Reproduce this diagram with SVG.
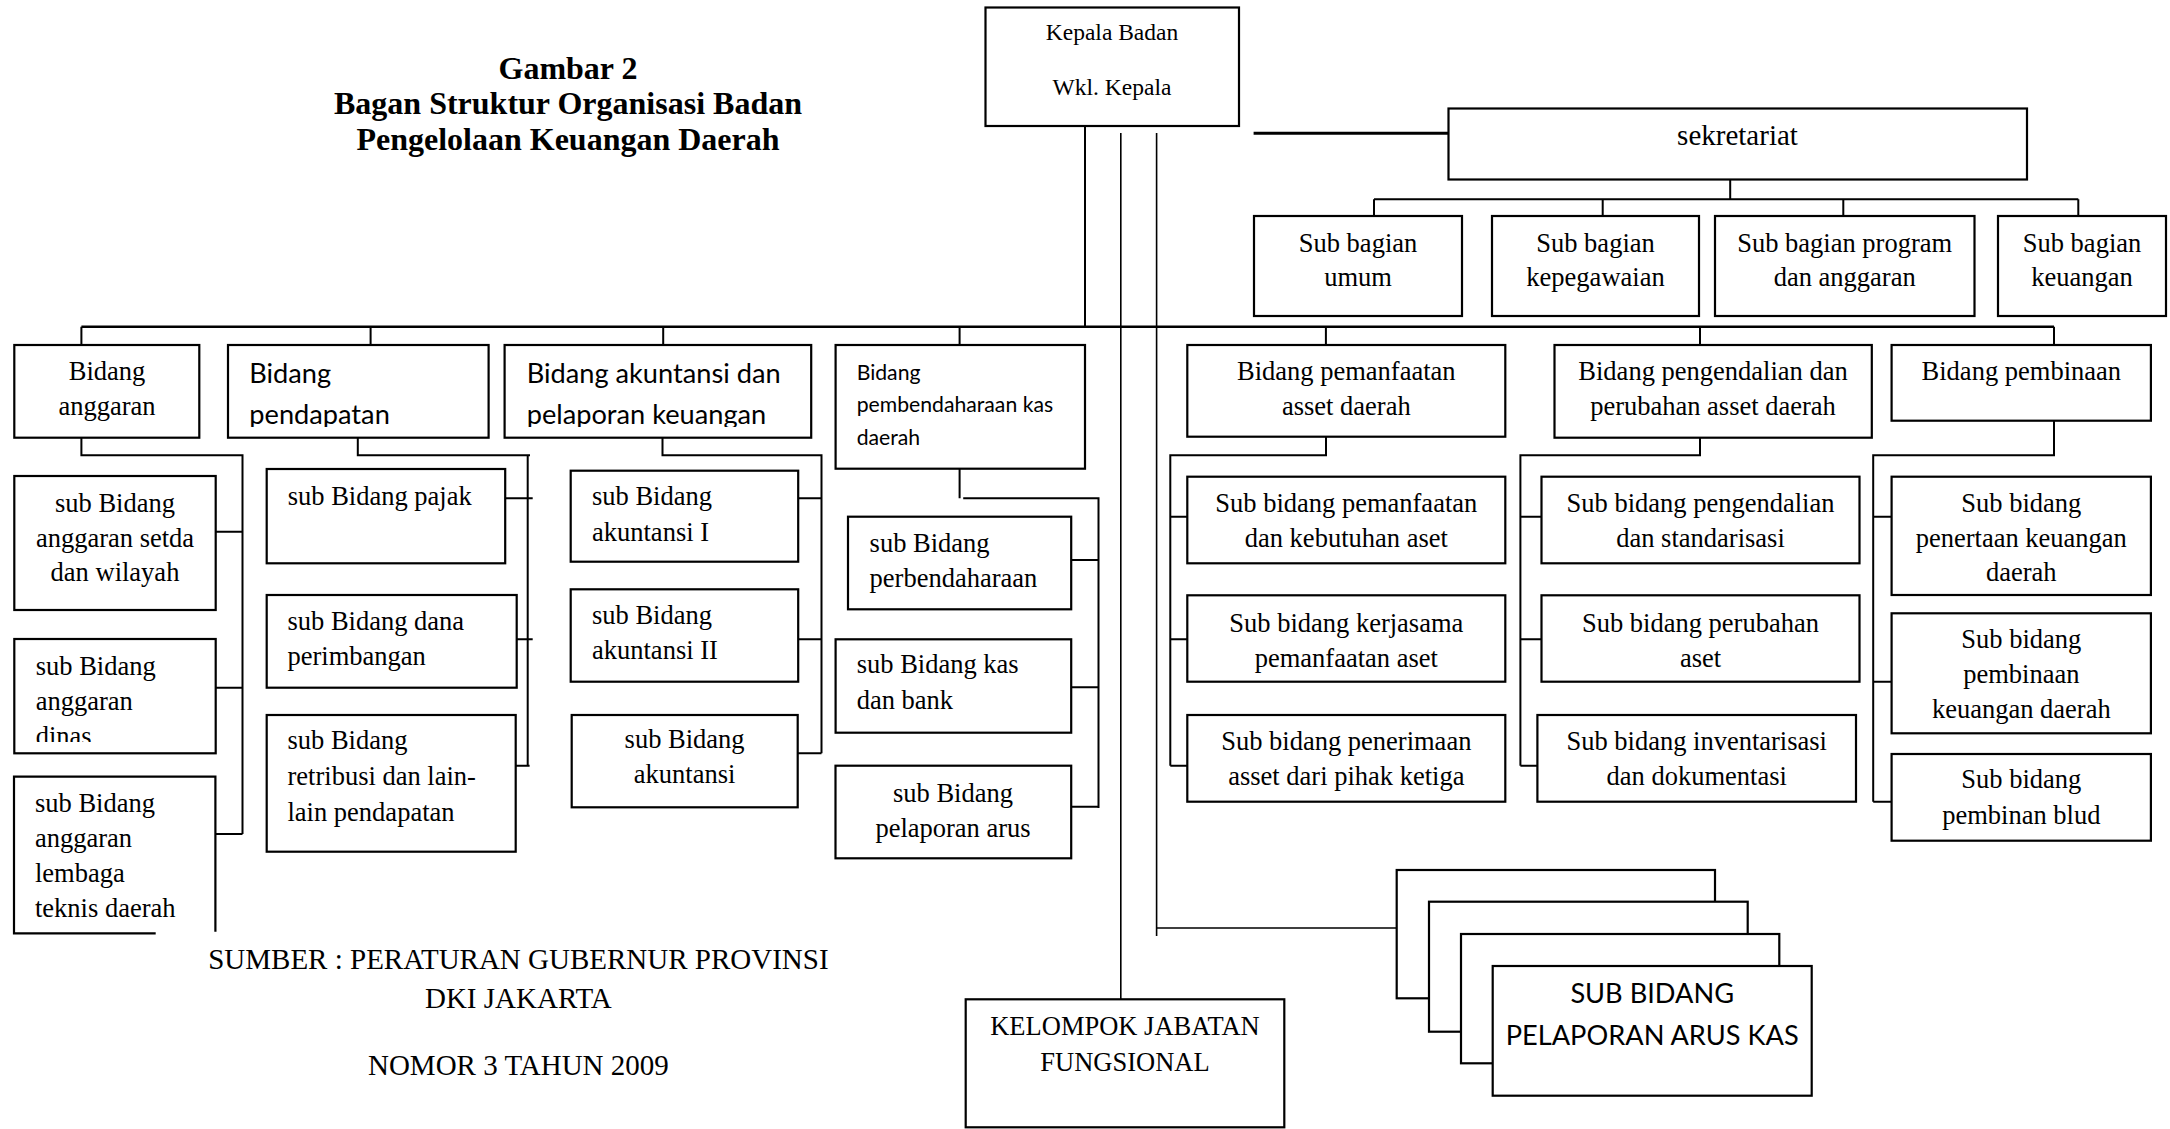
<svg xmlns="http://www.w3.org/2000/svg" width="2170" height="1129" viewBox="0 0 2170 1129">
<style>
.bx{fill:#fff;stroke:#000;stroke-width:2.2}
.ln{fill:none;stroke:#000;stroke-width:2}
.t{font-family:"Liberation Serif","Times New Roman",serif;font-size:26.5px;fill:#000}
.s{font-family:Lato,"Liberation Sans",sans-serif;font-size:27.2px;fill:#000}
.c{text-anchor:middle}
.h{font-family:"Liberation Serif","Times New Roman",serif;font-size:32px;font-weight:bold;text-anchor:middle}
</style>
<defs>
<clipPath id="clipTop"><rect x="0" y="340" width="2170" height="87"/></clipPath>
<clipPath id="clipDinas"><rect x="0" y="630" width="400" height="112"/></clipPath>
</defs>
<rect width="2170" height="1129" fill="#fff"/>

<g id="title">
<text class="h" x="568" y="79">Gambar 2</text>
<text class="h" x="568" y="114">Bagan Struktur Organisasi Badan</text>
<text class="h" x="568" y="150">Pengelolaan Keuangan Daerah</text>
</g>

<g id="connectors">
<path class="ln" style="stroke-width:2.5" d="M81.4 326.7H2054"/>
<path class="ln" d="M1085 126V326.7"/>
<path class="ln" style="stroke-width:1.6" d="M1120.8 133V999.3M1156.6 133V936M1156.6 928H1396.7"/>
<path class="ln" style="stroke-width:3" d="M1253.6 133.3H1448"/>
<path class="ln" d="M1730.2 179.3V199.3M1374 199.3H2078.3M1374 199.3V216M1602.7 199.3V216M1843.3 199.3V216M2078.3 199.3V216"/>
<path class="ln" d="M81.4 326.7V345M370.6 326.7V345M663.2 326.7V345M959.6 326.7V345M1325.9 326.7V345M1700 326.7V345M2054 326.7V345"/>
<path class="ln" d="M81.4 437.7V455.3H242.5V834M215.7 531.7H242.5M215.7 687.7H242.5M215.4 834H242.5"/>
<path class="ln" d="M357.8 437.7V455.3H530M527.7 455.3V765.7M505.2 498.3H532.7M516.7 639.3H532.7M515.6 765.7H529.6"/>
<path class="ln" d="M662.5 437.7V455.3H821.5V753.3M798.2 498.3H821.5M798.2 639.3H821.5M797.6 753.3H821.5"/>
<path class="ln" d="M959.6 468.7V498.3M963.2 498.3H1098.5V808M1071.2 560H1098.5M1071.2 687.3H1098.5M1071.2 806.7H1098.5"/>
<path class="ln" d="M1326 436.7V455.3H1170.3V765.7M1170.3 516.7H1187.3M1170.3 639.3H1187.3M1170.3 765.7H1187.3"/>
<path class="ln" d="M1700 437.7V455.3H1520.4V765.7M1520.4 516.7H1541.5M1520.4 639.3H1541.5M1520.4 765.7H1537.4"/>
<path class="ln" d="M2054 420.7V455.3H1873.2V801.7M1873.2 516.7H1891.6M1873.2 681.7H1891.6M1873.2 801.7H1891.6"/>
</g>

<g id="kepala">
<rect class="bx" x="985.5" y="7.5" width="253.5" height="118.5"/>
<text class="t c" x="1112" y="39.5" style="font-size:23.5px">Kepala Badan</text>
<text class="t c" x="1112" y="95" style="font-size:23.5px">Wkl. Kepala</text>
</g>

<g id="sekretariat">
<rect class="bx" x="1448.5" y="108.5" width="578.5" height="71"/>
<text class="t c" x="1737.5" y="145" style="font-size:29px">sekretariat</text>
</g>

<g id="sub-umum">
<rect class="bx" x="1254" y="216" width="208" height="100"/>
<text class="t c" x="1358" y="251.7">Sub bagian</text>
<text class="t c" x="1358" y="285.5">umum</text>
</g>
<g id="sub-kepegawaian">
<rect class="bx" x="1492" y="216" width="207" height="100"/>
<text class="t c" x="1595.5" y="251.7">Sub bagian</text>
<text class="t c" x="1595.5" y="285.5">kepegawaian</text>
</g>
<g id="sub-program">
<rect class="bx" x="1715" y="216" width="259.5" height="100"/>
<text class="t c" x="1844.7" y="251.7">Sub bagian program</text>
<text class="t c" x="1844.7" y="285.5">dan anggaran</text>
</g>
<g id="sub-keuangan">
<rect class="bx" x="1998" y="216" width="168" height="100"/>
<text class="t c" x="2082" y="251.7">Sub bagian</text>
<text class="t c" x="2082" y="285.5">keuangan</text>
</g>

<g id="bidang-anggaran">
<rect class="bx" x="14.3" y="345" width="185" height="92.7"/>
<text class="t c" x="107" y="380">Bidang</text>
<text class="t c" x="107" y="415">anggaran</text>
</g>
<g id="bidang-pendapatan">
<rect class="bx" x="228" y="345" width="260.6" height="92.7"/>
<g clip-path="url(#clipTop)">
<text class="s" x="249.3" y="383.3">Bidang</text>
<text class="s" x="249.3" y="424.3">pendapatan</text>
</g>
</g>
<g id="bidang-akuntansi">
<rect class="bx" x="504.6" y="345" width="306.6" height="92.7"/>
<g clip-path="url(#clipTop)">
<text class="s" x="526.7" y="382.7">Bidang akuntansi dan</text>
<text class="s" x="526.7" y="424.3">pelaporan keuangan</text>
</g>
</g>
<g id="bidang-pembendaharaan">
<rect class="bx" x="835.6" y="345" width="249.4" height="123.7"/>
<text class="s" x="856.7" y="380" style="font-size:21.2px">Bidang</text>
<text class="s" x="856.7" y="411.7" style="font-size:21.2px">pembendaharaan kas</text>
<text class="s" x="856.7" y="445" style="font-size:21.2px">daerah</text>
</g>
<g id="bidang-pemanfaatan">
<rect class="bx" x="1187.3" y="345" width="318" height="91.7"/>
<text class="t c" x="1346.3" y="380">Bidang pemanfaatan</text>
<text class="t c" x="1346.3" y="415">asset daerah</text>
</g>
<g id="bidang-pengendalian">
<rect class="bx" x="1554.5" y="345" width="317.3" height="92.7"/>
<text class="t c" x="1713" y="380">Bidang pengendalian dan</text>
<text class="t c" x="1713" y="415">perubahan asset daerah</text>
</g>
<g id="bidang-pembinaan">
<rect class="bx" x="1891.6" y="345" width="259.3" height="75.7"/>
<text class="t c" x="2021.3" y="380">Bidang pembinaan</text>
</g>

<g id="sub-anggaran-setda">
<rect class="bx" x="14.3" y="476" width="201.4" height="134"/>
<text class="t c" x="115" y="511.7">sub Bidang</text>
<text class="t c" x="115" y="546.7">anggaran setda</text>
<text class="t c" x="115" y="580.7">dan wilayah</text>
</g>
<g id="sub-anggaran-dinas">
<rect class="bx" x="14.3" y="639" width="201.4" height="114.3"/>
<g clip-path="url(#clipDinas)">
<text class="t" x="35.7" y="675">sub Bidang</text>
<text class="t" x="35.7" y="710">anggaran</text>
<text class="t" x="35.7" y="745">dinas</text>
</g>
</g>
<g id="sub-anggaran-lembaga">
<rect x="14" y="776.7" width="201.4" height="156.6" fill="#fff"/>
<path class="ln" style="stroke-width:2.2" d="M155.7 933.3H14V776.7H215.4V931.7"/>
<text class="t" x="35" y="811.7">sub Bidang</text>
<text class="t" x="35" y="846.7">anggaran</text>
<text class="t" x="35" y="881.7">lembaga</text>
<text class="t" x="35" y="916.7">teknis daerah</text>
</g>

<g id="sub-pajak">
<rect class="bx" x="266.7" y="469" width="238.5" height="94.3"/>
<text class="t" x="287.7" y="505">sub Bidang pajak</text>
</g>
<g id="sub-dana">
<rect class="bx" x="266.7" y="595" width="250" height="92.7"/>
<text class="t" x="287.5" y="630">sub Bidang dana</text>
<text class="t" x="287.5" y="665">perimbangan</text>
</g>
<g id="sub-retribusi">
<rect class="bx" x="266.7" y="715" width="249" height="136.7"/>
<text class="t" x="287.5" y="749">sub Bidang</text>
<text class="t" x="287.5" y="785">retribusi dan lain-</text>
<text class="t" x="287.5" y="821">lain pendapatan</text>
</g>

<g id="sub-akuntansi-1">
<rect class="bx" x="570.7" y="470.7" width="227.5" height="91"/>
<text class="t" x="592" y="505">sub Bidang</text>
<text class="t" x="592" y="540.7">akuntansi I</text>
</g>
<g id="sub-akuntansi-2">
<rect class="bx" x="570.7" y="589.3" width="227.5" height="92.4"/>
<text class="t" x="592" y="624">sub Bidang</text>
<text class="t" x="592" y="659.3">akuntansi II</text>
</g>
<g id="sub-akuntansi-3">
<rect class="bx" x="571.7" y="715" width="226" height="92.3"/>
<text class="t c" x="684.6" y="748">sub Bidang</text>
<text class="t c" x="684.6" y="783.3">akuntansi</text>
</g>

<g id="sub-perbendaharaan">
<rect class="bx" x="848" y="516.7" width="223.2" height="92.6"/>
<text class="t" x="869.6" y="551.7">sub Bidang</text>
<text class="t" x="869.6" y="586.7">perbendaharaan</text>
</g>
<g id="sub-kas-bank">
<rect class="bx" x="835.6" y="639.3" width="235.6" height="93.4"/>
<text class="t" x="856.7" y="673.3">sub Bidang kas</text>
<text class="t" x="856.7" y="709.3">dan bank</text>
</g>
<g id="sub-pelaporan-arus">
<rect class="bx" x="835.5" y="765.7" width="235.7" height="92.6"/>
<text class="t c" x="953" y="801.7">sub Bidang</text>
<text class="t c" x="953" y="836.7">pelaporan arus</text>
</g>

<g id="sub-pemanfaatan-kebutuhan">
<rect class="bx" x="1187.3" y="476.7" width="318" height="86.6"/>
<text class="t c" x="1346.3" y="511.7">Sub bidang pemanfaatan</text>
<text class="t c" x="1346.3" y="546.7">dan kebutuhan aset</text>
</g>
<g id="sub-kerjasama">
<rect class="bx" x="1187.3" y="595.3" width="318" height="86.4"/>
<text class="t c" x="1346.3" y="631.7">Sub bidang kerjasama</text>
<text class="t c" x="1346.3" y="666.7">pemanfaatan aset</text>
</g>
<g id="sub-penerimaan">
<rect class="bx" x="1187.3" y="715" width="318" height="86.7"/>
<text class="t c" x="1346.3" y="750">Sub bidang penerimaan</text>
<text class="t c" x="1346.3" y="785">asset dari pihak ketiga</text>
</g>

<g id="sub-pengendalian">
<rect class="bx" x="1541.5" y="476.7" width="318" height="86.6"/>
<text class="t c" x="1700.5" y="511.7">Sub bidang pengendalian</text>
<text class="t c" x="1700.5" y="546.7">dan standarisasi</text>
</g>
<g id="sub-perubahan">
<rect class="bx" x="1541.5" y="595.3" width="318" height="86.4"/>
<text class="t c" x="1700.5" y="631.7">Sub bidang perubahan</text>
<text class="t c" x="1700.5" y="666.7">aset</text>
</g>
<g id="sub-inventarisasi">
<rect class="bx" x="1537.4" y="715" width="318.6" height="86.7"/>
<text class="t c" x="1696.7" y="750">Sub bidang inventarisasi</text>
<text class="t c" x="1696.7" y="785">dan dokumentasi</text>
</g>

<g id="sub-penertaan">
<rect class="bx" x="1891.6" y="476.7" width="259.3" height="118.3"/>
<text class="t c" x="2021.3" y="511.7">Sub bidang</text>
<text class="t c" x="2021.3" y="546.7">penertaan keuangan</text>
<text class="t c" x="2021.3" y="580.7">daerah</text>
</g>
<g id="sub-pembinaan-keuangan">
<rect class="bx" x="1891.6" y="613.3" width="259.3" height="120"/>
<text class="t c" x="2021.3" y="648.3">Sub bidang</text>
<text class="t c" x="2021.3" y="683.3">pembinaan</text>
<text class="t c" x="2021.3" y="718.3">keuangan daerah</text>
</g>
<g id="sub-pembinan-blud">
<rect class="bx" x="1891.6" y="754" width="259.3" height="86.7"/>
<text class="t c" x="2021.3" y="788.3">Sub bidang</text>
<text class="t c" x="2021.3" y="823.5">pembinan blud</text>
</g>

<g id="kelompok-jabatan">
<rect class="bx" x="965.7" y="999.3" width="318.6" height="128"/>
<text class="t c" x="1125" y="1035">KELOMPOK JABATAN</text>
<text class="t c" x="1125" y="1070.7">FUNGSIONAL</text>
</g>

<g id="sub-bidang-stack">
<rect class="bx" x="1396.7" y="870" width="318.3" height="128.3"/>
<rect class="bx" x="1429" y="901.7" width="318.7" height="130"/>
<rect class="bx" x="1461" y="934" width="318.3" height="129.3"/>
<rect class="bx" x="1492.7" y="966" width="319" height="129.7"/>
<text class="s c" x="1652.2" y="1003.3">SUB BIDANG</text>
<text class="s c" x="1652.2" y="1045">PELAPORAN ARUS KAS</text>
</g>

<g id="sumber">
<text class="t c" x="518.4" y="969.3" style="font-size:29px">SUMBER : PERATURAN GUBERNUR PROVINSI</text>
<text class="t c" x="518.4" y="1008.3" style="font-size:29px">DKI JAKARTA</text>
<text class="t c" x="518.4" y="1075" style="font-size:29px">NOMOR 3 TAHUN 2009</text>
</g>
</svg>
